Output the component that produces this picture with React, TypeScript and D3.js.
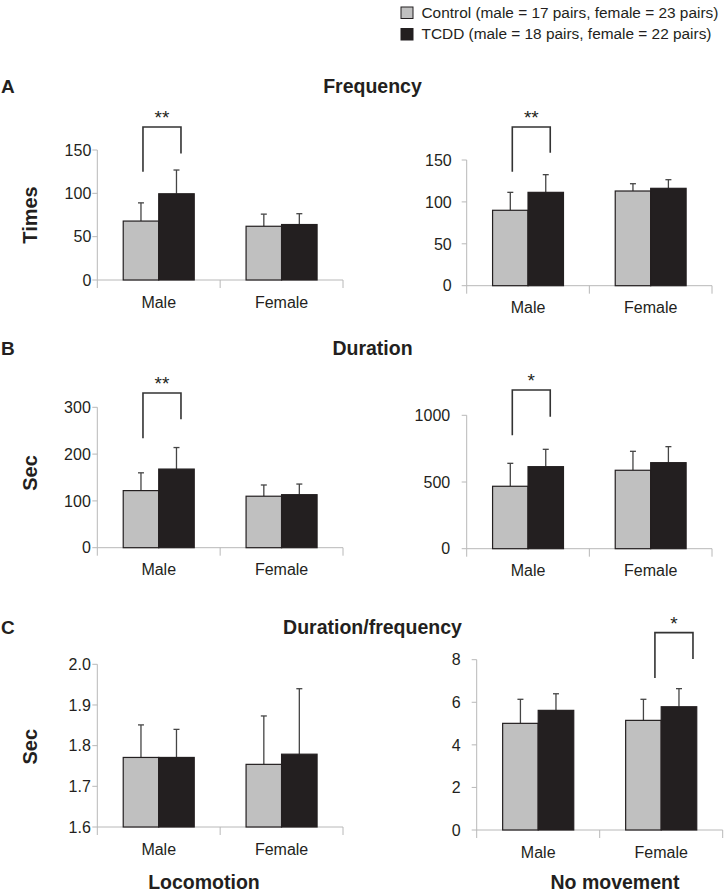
import React from "react";
import * as d3 from "d3";

const categories = ["Male", "Female"];
const seriesNames = ["Control", "TCDD"];
const legendLabels = [
  "Control (male = 17 pairs, female = 23 pairs)",
  "TCDD (male = 18 pairs, female = 22 pairs)",
];

// A: Frequency
const freqLocoControl = [68, 62];
const freqLocoControlErr = [21, 14];
const freqLocoTcdd = [99.5, 64];
const freqLocoTcddErr = [27.4, 12.5];
const freqLocoTicks = [0, 50, 100, 150];

const freqNoMoveControl = [90, 113];
const freqNoMoveControlErr = [21.4, 8.7];
const freqNoMoveTcdd = [111.4, 116.2];
const freqNoMoveTcddErr = [21.1, 10.3];
const freqNoMoveTicks = [0, 50, 100, 150];

// B: Duration
const durLocoControl = [122, 110];
const durLocoControlErr = [38, 24];
const durLocoTcdd = [168, 113.3];
const durLocoTcddErr = [46, 22.7];
const durLocoTicks = [0, 100, 200, 300];

const durNoMoveControl = [468, 588];
const durNoMoveControlErr = [172, 142];
const durNoMoveTcdd = [615, 645];
const durNoMoveTcddErr = [130, 120];
const durNoMoveTicks = [0, 500, 1000];

// C: Duration/frequency
const ratioLocoControl = [1.771, 1.754];
const ratioLocoControlErr = [0.08, 0.119];
const ratioLocoTcdd = [1.771, 1.779];
const ratioLocoTcddErr = [0.069, 0.161];
const ratioLocoTicks = [1.6, 1.7, 1.8, 1.9, 2.0];

const ratioNoMoveControl = [5.01, 5.15];
const ratioNoMoveControlErr = [1.13, 0.99];
const ratioNoMoveTcdd = [5.62, 5.79];
const ratioNoMoveTcddErr = [0.78, 0.85];
const ratioNoMoveTicks = [0, 2, 4, 6, 8];

// significance brackets (values in data units)
const freqLocoSig = [{ cat: "Male", top: 176.5, left: 125, right: 146, label: "**" }];
const freqNoMoveSig = [{ cat: "Male", top: 189.4, left: 136, right: 158.7, label: "**" }];
const durLocoSig = [{ cat: "Male", top: 330.7, left: 233.8, right: 274.5, label: "**" }];
const durNoMoveSig = [{ cat: "Male", top: 1190, left: 850, right: 990, label: "*" }];
const ratioLocoSig: any[] = [];
const ratioNoMoveSig = [{ cat: "Female", top: 9.27, left: 7.14, right: 8.03, label: "*" }];

const sectionLetters = ["A", "B", "C"];
const sectionTitles = ["Frequency", "Duration", "Duration/frequency"];
const yLabels = ["Times", "Sec", "Sec"];
const columnLabels = ["Locomotion", "No movement"];

const FONT = "'Liberation Sans', Arial, Helvetica, sans-serif";
const TEXT = "#231f20";
const CONTROL_FILL = "#c0c0c0";
const TCDD_FILL = "#231f20";
const AXIS = "#b8b8b8";
const ERR = "#454545";
const FS = 16;

type Panel = {
  x0: number; x1: number; yTop: number; y0: number;
  domain: [number, number]; ticks: number[]; fmt: (d: number) => string;
  labelGap: number; control: number[]; controlErr: number[]; tcdd: number[]; tcddErr: number[];
  sig: any[]; bracketDx: [number, number];
};

const panels: Panel[] = [
  { x0: 97.3, x1: 343, yTop: 150, y0: 280, domain: [0, 150], ticks: freqLocoTicks, fmt: d3.format("d"), labelGap: 6,
    control: freqLocoControl, controlErr: freqLocoControlErr, tcdd: freqLocoTcdd, tcddErr: freqLocoTcddErr, sig: freqLocoSig, bracketDx: [2, 4.5] },
  { x0: 466.7, x1: 712, yTop: 160, y0: 285.7, domain: [0, 150], ticks: freqNoMoveTicks, fmt: d3.format("d"), labelGap: 15,
    control: freqNoMoveControl, controlErr: freqNoMoveControlErr, tcdd: freqNoMoveTcdd, tcddErr: freqNoMoveTcddErr, sig: freqNoMoveSig, bracketDx: [2, 4.5] },
  { x0: 97.3, x1: 343, yTop: 407.3, y0: 547.7, domain: [0, 300], ticks: durLocoTicks, fmt: d3.format("d"), labelGap: 6.5,
    control: durLocoControl, controlErr: durLocoControlErr, tcdd: durLocoTcdd, tcddErr: durLocoTcddErr, sig: durLocoSig, bracketDx: [2, 4.5] },
  { x0: 466.7, x1: 712, yTop: 415.3, y0: 548.7, domain: [0, 1000], ticks: durNoMoveTicks, fmt: d3.format("d"), labelGap: 16.5,
    control: durNoMoveControl, controlErr: durNoMoveControlErr, tcdd: durNoMoveTcdd, tcddErr: durNoMoveTcddErr, sig: durNoMoveSig, bracketDx: [2, 4.5] },
  { x0: 97.3, x1: 343, yTop: 664.3, y0: 827, domain: [1.6, 2.0], ticks: ratioLocoTicks, fmt: d3.format(".1f"), labelGap: 6.5,
    control: ratioLocoControl, controlErr: ratioLocoControlErr, tcdd: ratioLocoTcdd, tcddErr: ratioLocoTcddErr, sig: ratioLocoSig, bracketDx: [2, 4.5] },
  { x0: 476.7, x1: 722.7, yTop: 659.7, y0: 830, domain: [0, 8], ticks: ratioNoMoveTicks, fmt: d3.format("d"), labelGap: 16,
    control: ratioNoMoveControl, controlErr: ratioNoMoveControlErr, tcdd: ratioNoMoveTcdd, tcddErr: ratioNoMoveTcddErr, sig: ratioNoMoveSig, bracketDx: [11.5, 14] },
];

function BarPanel({ p }: { p: Panel }) {
  const x = d3.scaleBand<string>().domain(categories).range([p.x0, p.x1]).paddingInner(0).paddingOuter(0);
  const bw = x.bandwidth();
  const groupW = bw * 0.578;
  const xs = d3.scaleBand<string>().domain(seriesNames).range([(bw - groupW) / 2, (bw + groupW) / 2]);
  const y = d3.scaleLinear().domain(p.domain).range([p.y0, p.yTop]);
  const rows = categories.flatMap((c, i) => [
    { cat: c, s: "Control", v: p.control[i], e: p.controlErr[i], fill: CONTROL_FILL },
    { cat: c, s: "TCDD", v: p.tcdd[i], e: p.tcddErr[i], fill: TCDD_FILL },
  ]);
  const tickXs = [p.x0, ...categories.slice(1).map((c) => x(c)!), p.x1];
  return (
    <g>
      <line x1={p.x0} x2={p.x0} y1={y(p.domain[1])} y2={p.y0} stroke={AXIS} strokeWidth={1} />
      <line x1={p.x0} x2={p.x1} y1={p.y0} y2={p.y0} stroke={AXIS} strokeWidth={1} />
      {tickXs.map((tx, i) => (
        <line key={"xt" + i} x1={tx} x2={tx} y1={p.y0} y2={p.y0 + 8} stroke={AXIS} strokeWidth={1} />
      ))}
      {p.ticks.map((t) => (
        <g key={"yt" + t}>
          <line x1={p.x0 - 5} x2={p.x0} y1={y(t)} y2={y(t)} stroke={AXIS} strokeWidth={1} />
          <text x={p.x0 - p.labelGap} y={y(t)} dy="0.36em" textAnchor="end" fontSize={FS} fill={TEXT} fontFamily={FONT}>
            {p.fmt(t)}
          </text>
        </g>
      ))}
      {categories.map((c) => (
        <text key={"cl" + c} x={x(c)! + bw / 2} y={p.y0 + 27.5} textAnchor="middle" fontSize={FS} fill={TEXT} fontFamily={FONT}>
          {c}
        </text>
      ))}
      {rows.map((r, i) => {
        const cx = x(r.cat)! + xs(r.s)! + xs.bandwidth() / 2;
        return (
          <g key={"e" + i}>
            <line x1={cx} x2={cx} y1={y(r.v)} y2={y(r.v + r.e)} stroke={ERR} strokeWidth={1.3} />
            <line x1={cx - 3} x2={cx + 3} y1={y(r.v + r.e)} y2={y(r.v + r.e)} stroke={ERR} strokeWidth={1.3} />
          </g>
        );
      })}
      {rows.map((r, i) => (
        <rect key={"b" + i} x={x(r.cat)! + xs(r.s)!} width={xs.bandwidth()} y={y(r.v)} height={p.y0 - y(r.v)}
          fill={r.fill} stroke="#231f20" strokeWidth={1.2} />
      ))}
      {p.sig.map((s, i) => {
        const lx = x(s.cat)! + xs("Control")! + xs.bandwidth() / 2 + p.bracketDx[0];
        const rx = x(s.cat)! + xs("TCDD")! + xs.bandwidth() / 2 + p.bracketDx[1];
        const path = d3.path();
        path.moveTo(lx, y(s.left));
        path.lineTo(lx, y(s.top));
        path.lineTo(rx, y(s.top));
        path.lineTo(rx, y(s.right));
        return (
          <g key={"s" + i}>
            <path d={path.toString()} fill="none" stroke="#333" strokeWidth={1.6} />
            <text x={(lx + rx) / 2} y={y(s.top) - 3} textAnchor="middle" fontSize={19} fill={TEXT} fontFamily={FONT}>
              {s.label}
            </text>
          </g>
        );
      })}
    </g>
  );
}

export default function App() {
  const sectionY = [85.7, 348, 626.7];
  const yLabelY = [215, 473, 746.7];
  return (
    <svg width={727} height={894} style={{ position: "absolute", left: 0, top: 0, background: "#fff" }}>
      <rect x={0} y={0} width={727} height={894} fill="#fff" />
      {legendLabels.map((l, i) => (
        <g key={"lg" + i}>
          <rect x={401} y={7 + i * 21.5} width={12} height={11.5} fill={i === 0 ? CONTROL_FILL : TCDD_FILL}
            stroke="#231f20" strokeWidth={1} />
          <text x={421.5} y={17.5 + i * 21.5} fontSize={15.4} fill={TEXT} fontFamily={FONT}>{l}</text>
        </g>
      ))}
      {sectionLetters.map((s, i) => (
        <g key={"sec" + i}>
          <text x={1} y={sectionY[i]} dy="0.36em" fontSize={19} fontWeight="bold" fill={TEXT} fontFamily={FONT}>{s}</text>
          <text x={372.5} y={sectionY[i]} dy="0.36em" textAnchor="middle" fontSize={19.5} fontWeight="bold" fill={TEXT} fontFamily={FONT}>
            {sectionTitles[i]}
          </text>
          <text transform={`translate(30,${yLabelY[i]}) rotate(-90)`} dy="0.36em" textAnchor="middle" fontSize={20}
            fontWeight="bold" fill={TEXT} fontFamily={FONT}>
            {yLabels[i]}
          </text>
        </g>
      ))}
      {panels.map((p, i) => <BarPanel key={i} p={p} />)}
      <text x={204} y={889} textAnchor="middle" fontSize={19.5} fontWeight="bold" fill={TEXT} fontFamily={FONT}>{columnLabels[0]}</text>
      <text x={615} y={889} textAnchor="middle" fontSize={19.5} fontWeight="bold" fill={TEXT} fontFamily={FONT}>{columnLabels[1]}</text>
    </svg>
  );
}
